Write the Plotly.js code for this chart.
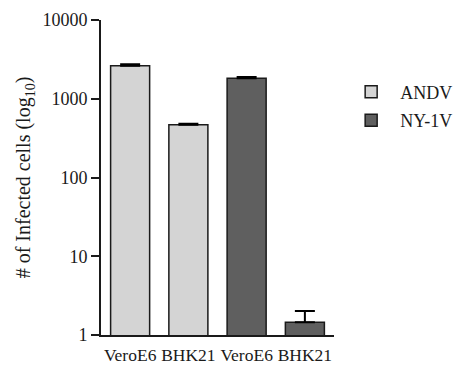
<!DOCTYPE html>
<html>
<head>
<meta charset="utf-8">
<script src="https://cdn.plot.ly/plotly-3.0.1.min.js"></script>
<style>html,body{margin:0;padding:0;background:#fff;}#chart{width:462px;height:369px;}</style>
</head>
<body>
<div id="chart"></div>
<script>
const cellLines = ["VeroE6", "BHK21"];
const andvValues = [2630, 468];
const andvErrors = [105, 14];
const ny1vValues = [1820, 1.45];
const ny1vErrors = [70, 0.57];
const yTickVals = [1, 10, 100, 1000, 10000];
const yTickText = ["1", "10", "100", "1000", "10000"];

const tickText = cellLines.concat(cellLines);
const andvX = cellLines.map((_, i) => i);
const ny1vX = cellLines.map((_, i) => i + cellLines.length);

const family = "Liberation Serif, Times New Roman, serif";
const tickFont = {family: family, size: 18, color: "#1a1a1a"};
const xFont = {family: family, size: 17.5, color: "#1a1a1a"};
const titleFont = {family: family, size: 20, color: "#1a1a1a"};

const traces = [
  {
    type: "bar", name: "ANDV", x: andvX, y: andvValues, legendgroup: "a",
    width: 0.67,
    marker: {color: "#d4d4d4", line: {color: "#1a1a1a", width: 1.5}},
    error_y: {type: "data", symmetric: false, array: andvErrors, arrayminus: andvErrors.map(() => 0), color: "#000", thickness: 2, width: 10}
  },
  {
    type: "bar", name: "NY-1V", x: ny1vX, y: ny1vValues, legendgroup: "b",
    width: 0.67,
    marker: {color: "#5f5f5f", line: {color: "#1a1a1a", width: 1.5}},
    error_y: {type: "data", symmetric: false, array: ny1vErrors, arrayminus: ny1vErrors.map(() => 0), color: "#000", thickness: 2, width: 10}
  }
];

const layout = {
  width: 462, height: 369,
  margin: {l: 101, r: 128, t: 20, b: 34, autoexpand: false},
  paper_bgcolor: "#fff", plot_bgcolor: "#fff",
  font: tickFont,
  showlegend: true,
  barmode: "overlay",
  legend: {x: 1.035, y: 0.83, xanchor: "left", yanchor: "top", font: {family: family, size: 18, color: "#1a1a1a"}, bgcolor: "rgba(0,0,0,0)", tracegroupgap: 2, itemwidth: 48},
  xaxis: {
    range: [-0.5, 3.5],
    tickvals: [0, 1, 2, 3], ticktext: tickText,
    tickangle: 0,
    showline: true, linecolor: "#1a1a1a", linewidth: 2,
    showgrid: false, zeroline: false, ticks: "", ticklen: 0,
    ticklabelstandoff: 3,
    tickfont: xFont, fixedrange: true
  },
  yaxis: {
    type: "log", range: [0, 4],
    tickvals: yTickVals, ticktext: yTickText,
    showline: true, linecolor: "#1a1a1a", linewidth: 2,
    showgrid: false, zeroline: false,
    ticks: "outside", ticklen: 8, tickwidth: 2, tickcolor: "#1a1a1a",
    tickfont: tickFont,
    title: {text: "# of Infected cells (log<sub>10</sub>)", font: titleFont, standoff: 6},
    fixedrange: true
  }
};

Plotly.newPlot("chart", traces, layout, {displayModeBar: false, staticPlot: true});
</script>
</body>
</html>
